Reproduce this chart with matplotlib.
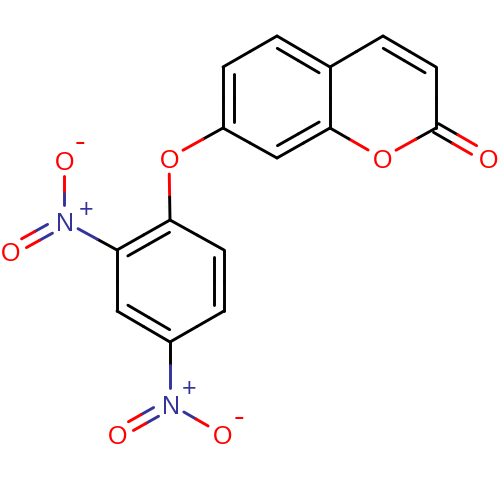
import numpy as np
import matplotlib
matplotlib.use("Agg")
import matplotlib.pyplot as plt

# ----- ATOMS (positions) -----
atom_x = [277, 223, 223, 277, 330, 330, 383, 436, 436, 382, 488, 169, 170, 117, 117, 170, 224, 224, 64, 64, 10, 170, 117, 222]
atom_y = [36, 67, 128, 158, 128, 67, 36, 67, 128, 158, 158, 158, 220, 250, 311, 342, 311, 250, 221, 160, 251, 404, 434, 434]
atom_el = ["C", "C", "C", "C", "C", "C", "C", "C", "C", "O", "O", "O", "C", "C", "C", "C", "C", "C", "N", "O", "O", "N", "O", "O"]

# ----- BONDS -----
single_bonds = [(0, 1), (2, 3), (4, 5), (5, 6), (7, 8), (8, 9), (9, 4), (2, 11), (11, 12), (13, 14), (15, 16), (17, 12),
                (13, 18), (18, 19), (15, 21), (21, 23)]
ring_double = [(1, 2), (0, 5), (3, 4), (6, 7), (12, 13), (14, 15), (16, 17)]
ring_centre_x = [277, 277, 277, 383, 170, 170, 170]
ring_centre_y = [97, 97, 97, 97, 281, 281, 281]
outer_double = [(8, 10), (18, 20), (21, 22)]

# ----- CHARGES -----
charge_text = ["+", "-", "+", "-"]
charge_x = [86, 80, 189, 239]
charge_y = [209, 144, 388, 419]

colors = {"C": "black", "O": "#ff0000", "N": "#333399"}
trim = {"C": 0, "O": 16, "N": 16}

fig = plt.figure(figsize=(5, 5), dpi=100)
ax = fig.add_axes([0, 0, 1, 1])
ax.set_xlim(0, 500)
ax.set_ylim(500, 0)
ax.axis("off")


def draw_bond(p, q, el_p, el_q, cut_p, cut_q):
    # dwie polowy widocznej kreski, kazda w kolorze swojego atomu
    d = (q - p) / np.linalg.norm(q - p)
    a = p + d * cut_p
    b = q - d * cut_q
    mid = (a + b) / 2
    ax.plot([a[0], mid[0]], [a[1], mid[1]], color=colors[el_p], lw=2.1, solid_capstyle="round")
    ax.plot([mid[0], b[0]], [mid[1], b[1]], color=colors[el_q], lw=2.1, solid_capstyle="round")


def pt(i):
    return np.array([atom_x[i], atom_y[i]], dtype=float)


for i, j in single_bonds:
    draw_bond(pt(i), pt(j), atom_el[i], atom_el[j], trim[atom_el[i]], trim[atom_el[j]])

# ----- PODWOJNE W PIERSCIENIU -----
for k, (i, j) in enumerate(ring_double):
    p, q = pt(i), pt(j)
    draw_bond(p, q, "C", "C", 0, 0)
    d = (q - p) / np.linalg.norm(q - p)
    n = np.array([-d[1], d[0]])
    c = np.array([ring_centre_x[k], ring_centre_y[k]])
    if np.dot(c - p, n) < 0:
        n = -n
    draw_bond(p + n * 10.5, q + n * 10.5, "C", "C", 6.5, 6.5)

# ----- PODWOJNE NA ZEWNATRZ -----
for i, j in outer_double:
    p, q = pt(i), pt(j)
    d = (q - p) / np.linalg.norm(q - p)
    n = np.array([-d[1], d[0]])
    for s in (-5, 5):
        draw_bond(p + n * s, q + n * s, atom_el[i], atom_el[j], trim[atom_el[i]], trim[atom_el[j]])

# ----- ETYKIETY -----
for x, y, el in zip(atom_x, atom_y, atom_el):
    if el != "C":
        ax.text(x + 1, y + 10, el, color=colors[el], fontsize=18, family="Liberation Sans", ha="center", va="baseline")

for t, x, y in zip(charge_text, charge_x, charge_y):
    if t == "+":
        ax.text(x, y + 8, t, color=colors["N"], fontsize=18, family="Liberation Sans", ha="center", va="baseline")
    else:
        ax.text(x, y + 7, t, color=colors["O"], fontsize=23, family="Liberation Sans", ha="center", va="baseline")

fig.savefig("out.png", dpi=100)
